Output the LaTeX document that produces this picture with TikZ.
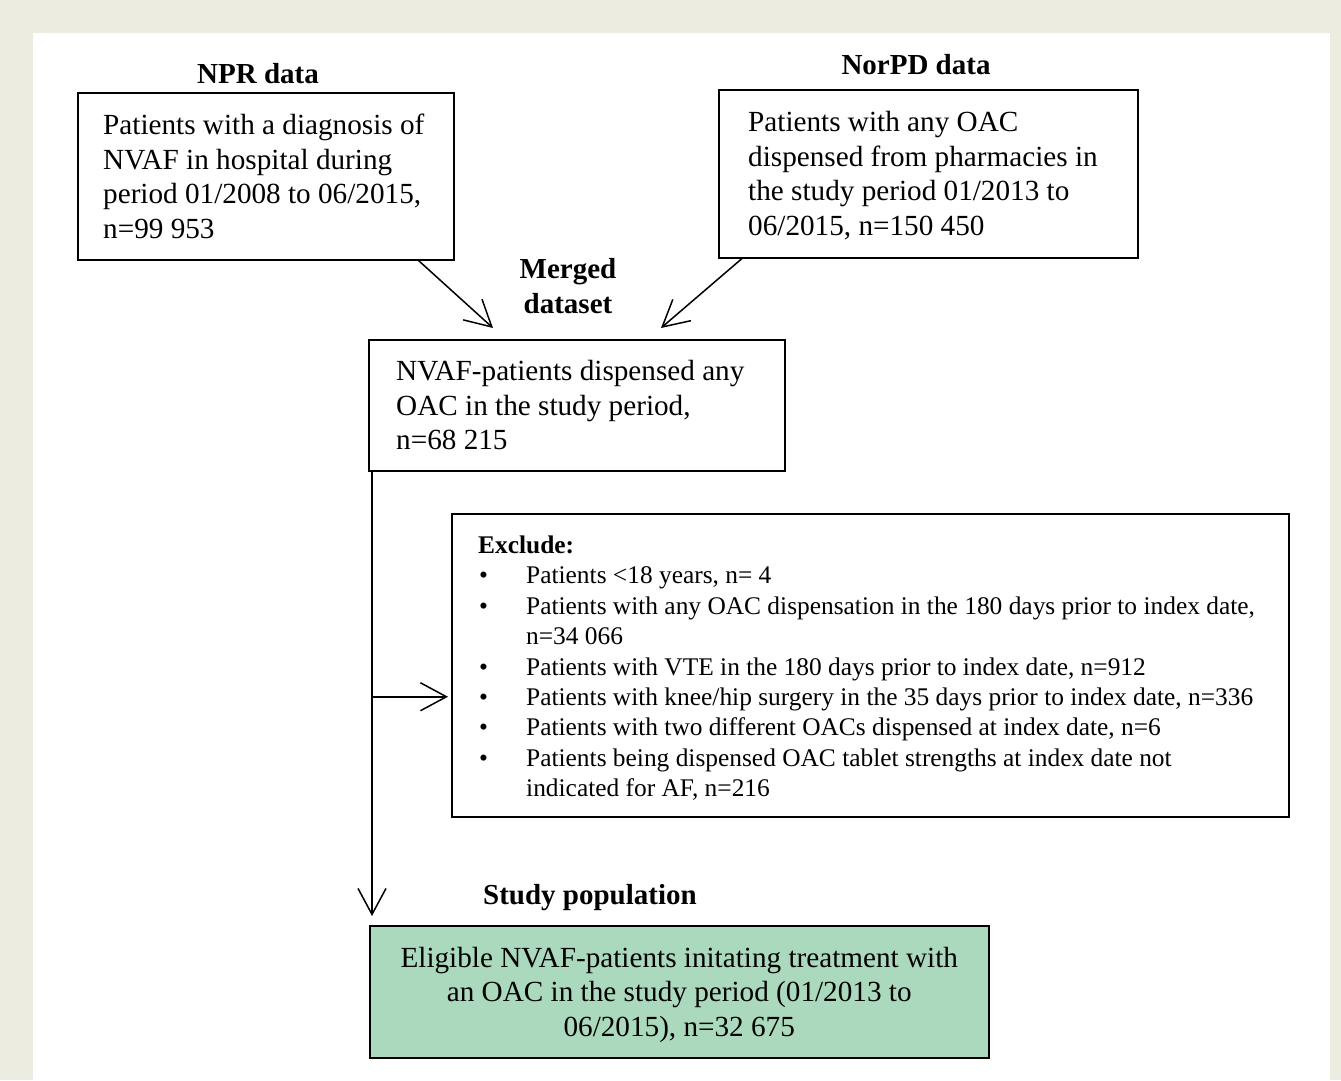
\documentclass[tikz,border=0pt]{standalone}
\usepackage{fontspec}
\setmainfont{Liberation Serif}
\usetikzlibrary{arrows.meta}
\definecolor{bgbeige}{RGB}{237,236,225}
\definecolor{popgreen}{RGB}{170,217,189}
\newcommand\xbul{\makebox[48pt][l]{\hspace*{1pt}•}}
\newcommand\xind{\hspace*{48pt}}
\begin{document}
\begin{tikzpicture}[x=1pt,y=-1pt,
  boxed/.style={draw=black, line width=1.5pt, fill=white, inner sep=0pt, anchor=north west},
  txt/.style={inner sep=0pt, align=left, anchor=west, font=\fontsize{29.2}{34.5}\selectfont},
  smalltxt/.style={inner sep=0pt, align=left, anchor=west, font=\fontsize{25.4}{30.4}\selectfont},
  ttl/.style={inner sep=0pt, font=\bfseries\fontsize{29}{35}\selectfont},
  arr/.style={line width=1.5pt, -{Straight Barb[length=26pt,width=28pt,line width=1.5pt]}}]
\useasboundingbox (0,0) rectangle (1341,1080);
\fill[bgbeige] (0,0) rectangle (1341,1080);
\fill[white] (33,33) rectangle (1330,1080);

% titles
\node[ttl, anchor=base] (nprt) at (258,83) {NPR data};
\node[ttl, anchor=base] (norpdt) at (916,74) {NorPD data};
\node[ttl, align=center] (merged) at (568,286) {Merged\\dataset};
\node[ttl, anchor=base] (popt) at (590,904) {Study population};

% boxes
\node[boxed, minimum width=376pt, minimum height=167pt] (npr) at (77,92) {};
\node[txt] (nprtext) at ([xshift=26]npr.west) {Patients with a diagnosis of\\NVAF in hospital during\\period 01/2008 to 06/2015,\\n=99 953};

\node[boxed, minimum width=419pt, minimum height=168pt] (norpd) at (718,89) {};
\node[txt] (norpdtext) at ([xshift=30,yshift=-2]norpd.west) {Patients with any OAC\\dispensed from pharmacies in\\the study period 01/2013 to\\06/2015, n=150 450};

\node[boxed, minimum width=416pt, minimum height=131pt] (mid) at (368,339) {};
\node[txt] (midtext) at ([xshift=28]mid.west) {NVAF-patients dispensed any\\OAC in the study period,\\n=68 215};

\node[boxed, minimum width=837pt, minimum height=303pt] (excl) at (451,513) {};
\node[smalltxt] (excltext) at ([xshift=27,yshift=-3]excl.west) {\textbf{Exclude:}\\
\xbul Patients <18 years, n= 4\\
\xbul Patients with any OAC dispensation in the 180 days prior to index date,\\
\xind n=34 066\\
\xbul Patients with VTE in the 180 days prior to index date, n=912\\
\xbul Patients with knee/hip surgery in the 35 days prior to index date, n=336\\
\xbul Patients with two different OACs dispensed at index date, n=6\\
\xbul Patients being dispensed OAC tablet strengths at index date not\\
\xind indicated for AF, n=216};

\node[boxed, fill=popgreen, minimum width=619pt, minimum height=132pt] (pop) at (369,925) {};
\node[inner sep=0pt, align=center, font=\fontsize{29.2}{34.5}\selectfont] (poptext)
  at ([yshift=-3]pop.center)
  {Eligible NVAF-patients initating treatment with\\an OAC in the study period (01/2013 to\\06/2015), n=32 675};

% connectors
\draw[arr] ([xshift=-36]npr.south east) -- ([xshift=125,yshift=11]mid.north west);
\draw[arr] ([xshift=24]norpd.south west) -- ([xshift=293,yshift=11]mid.north west);
\draw[arr] ([xshift=4]mid.south west) -- ([xshift=3,yshift=9]pop.north west);
\coordinate (brx) at ([xshift=4]mid.south west);
\coordinate (bry) at ([yshift=-31.5]excl.west);
\draw[arr] (brx |- bry) -- ([xshift=-3]bry);
\end{tikzpicture}
\end{document}
